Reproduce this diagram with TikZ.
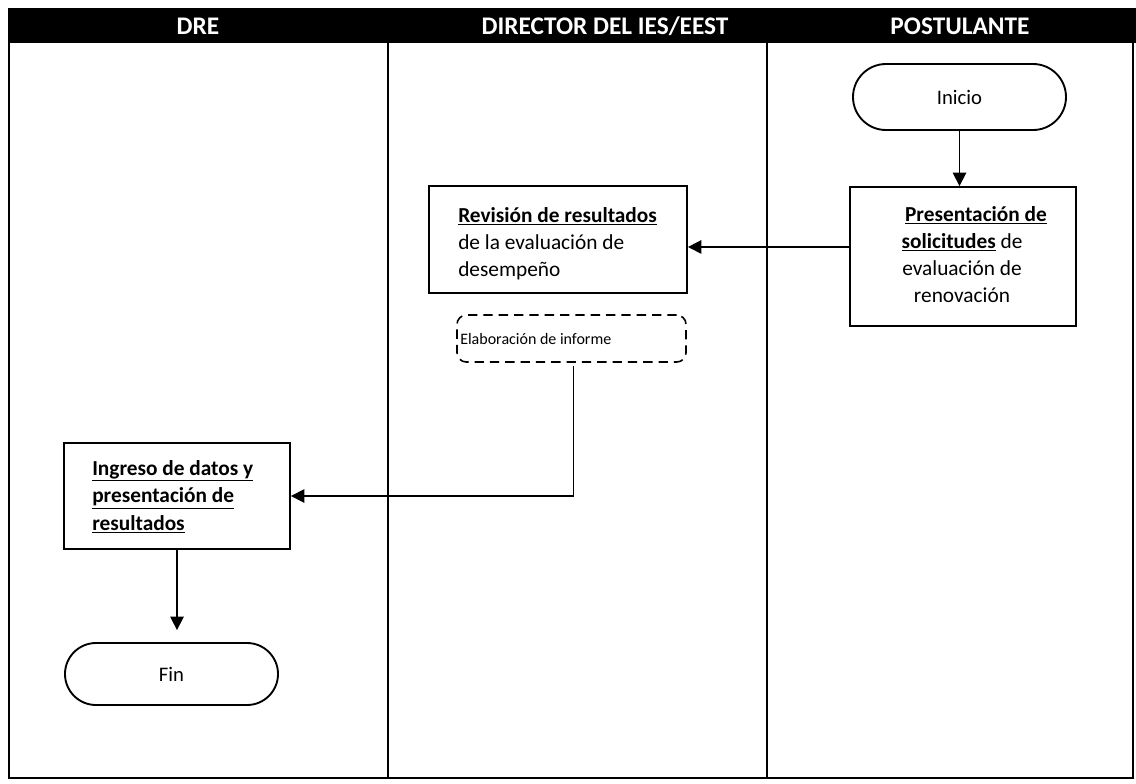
\documentclass[tikz,border=0pt]{standalone}
\usepackage{fontspec}
\setmainfont{Carlito}
\usetikzlibrary{arrows.meta,shapes.misc}
\begin{document}
\begin{tikzpicture}[x=0.75pt,y=-0.75pt,
  lane/.style={draw=black, line width=1.2pt},
  proc/.style={draw=black, line width=1.4pt, rectangle, inner sep=0pt},
  term/.style={draw=black, line width=1.4pt, rounded rectangle, inner sep=0pt, font=\fontsize{15.5}{18}\selectfont},
  dbox/.style={draw=black, line width=1.2pt, rectangle, rounded corners=7pt, dash pattern=on 7pt off 4.5pt, inner sep=0pt},
  btext/.style={inner sep=0pt, align=left, font=\fontsize{16}{20.2}\selectfont},
  htext/.style={text=white, font=\bfseries\fontsize{19}{22}\selectfont, inner sep=0pt},
  flow/.style={line width=1.2pt, -{Triangle[width=10pt,length=10pt]}}]
\useasboundingbox (0,0) rectangle (1136,783);
% header
\fill[black] (8,8) rectangle (1136,43);
\node[htext] (h1) at (198,26) {DRE};
\node[htext] (h2) at (605,26) {DIRECTOR DEL IES/EEST};
\node[htext] (h3) at (960,26) {POSTULANTE};
% lanes
\draw[lane] (9,43) -- (9,778) -- (1133,778) -- (1133,43);
\draw[lane] (388,43) -- (388,778);
\draw[lane] (767,43) -- (767,778);
% nodes
\node[term, minimum width=213*0.75pt, minimum height=66*0.75pt] (ini) at (959.5,97) {Inicio};
\node[proc, minimum width=226*0.75pt, minimum height=139*0.75pt] (pres) at (963,256.5) {};
\node[btext, align=center, anchor=north] (prest) at (962,206) {\hspace{21pt}\underline{\textbf{Presentación de}}\\\underline{\textbf{solicitudes}} de\\evaluación de\\renovación};
\node[proc, minimum width=258*0.75pt, minimum height=107*0.75pt] (rev) at (558,239.5) {};
\node[btext, anchor=north west] (revt) at (458,207.5) {\underline{\textbf{Revisión de resultados}}\\de la evaluación de\\desempeño};
\node[dbox, minimum width=229*0.75pt, minimum height=47*0.75pt] (elab) at (571.5,338.5) {};
\node[inner sep=0pt, anchor=west, font=\fontsize{12}{14}\selectfont] (elabt) at (460,338.5) {Elaboración de informe};
\node[proc, minimum width=226*0.75pt, minimum height=106*0.75pt] (ing) at (177,496) {};
\node[btext, anchor=north west, font=\fontsize{16}{20.8}\selectfont] (ingt) at (92,460) {\underline{\textbf{Ingreso de datos y}}\\\underline{\textbf{presentación de}}\\\underline{\textbf{resultados}}};
\node[term, minimum width=213*0.75pt, minimum height=62*0.75pt] (fin) at (171.5,674) {Fin};
% connectors
\draw[flow] (ini.south) -- (ini.south |- pres.north);
\draw[flow] ([yshift=-5.6pt]rev.east -| pres.west) -- ([yshift=-5.6pt]rev.east);
\draw[flow] ([xshift=1.5pt,yshift=-2.5pt]elab.south) |- (ing.east);
\draw[flow] (ing.south) -- ([yshift=9pt]ing.south |- fin.north);
\end{tikzpicture}
\end{document}
